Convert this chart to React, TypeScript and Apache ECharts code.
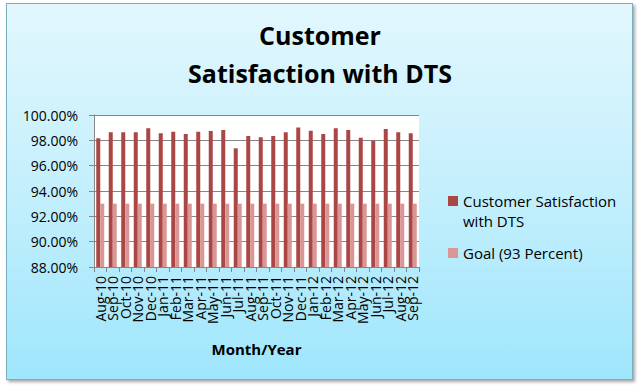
import React, { useEffect, useRef } from "react";
import * as echarts from "echarts";

const months = [
  "Aug-10", "Sep-10", "Oct-10", "Nov-10", "Dec-10", "Jan-11", "Feb-11", "Mar-11", "Apr-11",
  "May-11", "Jun-11", "Jul-11", "Aug-11", "Sep-11", "Oct-11", "Nov-11", "Dec-11", "Jan-12",
  "Feb-12", "Mar-12", "Apr-12", "May-12", "Jun-12", "Jul-12", "Aug-12", "Sep-12",
];

const satisfaction = [
  98.16, 98.63, 98.63, 98.63, 98.95, 98.55, 98.68, 98.5, 98.68, 98.74, 98.81, 97.37, 98.34,
  98.24, 98.34, 98.63, 99.02, 98.76, 98.5, 98.95, 98.81, 98.21, 97.97, 98.89, 98.63, 98.55,
];

const goal = [
  93, 93, 93, 93, 93, 93, 93, 93, 93, 93, 93, 93, 93,
  93, 93, 93, 93, 93, 93, 93, 93, 93, 93, 93, 93, 93,
];

const yTicks = { min: 88, max: 100, interval: 2 };

const FONT = "'Open Sans', 'Liberation Sans', sans-serif";

export default function App() {
  const ref = useRef<HTMLDivElement>(null);

  useEffect(() => {
    if (!ref.current) return;
    const chart = echarts.init(ref.current, null, { renderer: "svg" });
    chart.setOption({
      animation: false,
      backgroundColor: "transparent",
      textStyle: { fontFamily: FONT },
      title: {
        text: "Customer\nSatisfaction with DTS",
        left: "center",
        top: 11,
        textStyle: {
          fontFamily: FONT,
          fontSize: 25,
          fontWeight: "bold",
          lineHeight: 38,
          color: "#000",
        },
      },
      legend: [
        {
          data: ["Customer Satisfaction with DTS"],
          left: 448,
          top: 171,
          padding: 0,
          orient: "vertical",
          icon: "rect",
          itemWidth: 10,
          itemHeight: 10,
          itemGap: 5,
          formatter: () => " \nCustomer Satisfaction\nwith DTS",
          textStyle: {
            fontFamily: FONT,
            fontSize: 15,
            lineHeight: 20,
            color: "#000",
          },
        },
        {
          data: ["Goal (93 Percent)"],
          left: 448,
          top: 243,
          padding: 0,
          orient: "vertical",
          icon: "rect",
          itemWidth: 10,
          itemHeight: 10,
          textStyle: {
            fontFamily: FONT,
            fontSize: 15,
            lineHeight: 20,
            color: "#000",
          },
        },
      ],
      grid: {
        left: 94,
        top: 115,
        right: 221,
        bottom: 122,
        show: true,
        backgroundColor: "#ffffff",
        borderWidth: 0,
      },
      xAxis: {
        type: "category",
        data: months,
        axisLine: { show: true, lineStyle: { color: "#868686" } },
        axisTick: { show: true, length: 5, alignWithLabel: false, lineStyle: { color: "#868686" } },
        axisLabel: {
          interval: 0,
          rotate: 90,
          fontSize: 14,
          margin: 9,
          color: "#000",
          fontFamily: FONT,
        },
        name: "Month/Year",
        nameLocation: "middle",
        nameGap: 74,
        nameTextStyle: { fontFamily: FONT, fontSize: 15, fontWeight: "bold", color: "#000" },
      },
      yAxis: {
        type: "value",
        min: yTicks.min,
        max: yTicks.max,
        interval: yTicks.interval,
        axisLine: { show: true, lineStyle: { color: "#868686" } },
        axisTick: { show: true, length: 5, lineStyle: { color: "#868686" } },
        splitLine: { show: true, lineStyle: { color: "#868686", width: 1 } },
        axisLabel: {
          formatter: (v: number) => v.toFixed(2) + "%",
          fontSize: 14,
          margin: 16,
          color: "#000",
          fontFamily: FONT,
        },
      },
      series: [
        {
          name: "Customer Satisfaction with DTS",
          type: "bar",
          data: satisfaction,
          barGap: "0%",
          barCategoryGap: "36%",
          itemStyle: { color: "#AA4643" },
        },
        {
          name: "Goal (93 Percent)",
          type: "bar",
          data: goal,
          itemStyle: { color: "#D99694" },
        },
      ],
    });
    return () => chart.dispose();
  }, []);

  return (
    <div style={{ position: "fixed", left: 0, top: 0, width: 640, height: 389, background: "#ffffff" }}>
      <div
        style={{
          position: "absolute",
          left: 6,
          top: 3,
          width: 625,
          height: 375,
          border: "1px solid #79aebd",
          boxShadow: "2px 2px 3px rgba(0,0,0,0.35)",
          background: "linear-gradient(to bottom, #e2f7fd 0%, #c4effc 50%, #9fe6fc 100%)",
        }}
      />
      <div ref={ref} style={{ position: "absolute", left: 0, top: 0, width: 640, height: 389 }} />
    </div>
  );
}
